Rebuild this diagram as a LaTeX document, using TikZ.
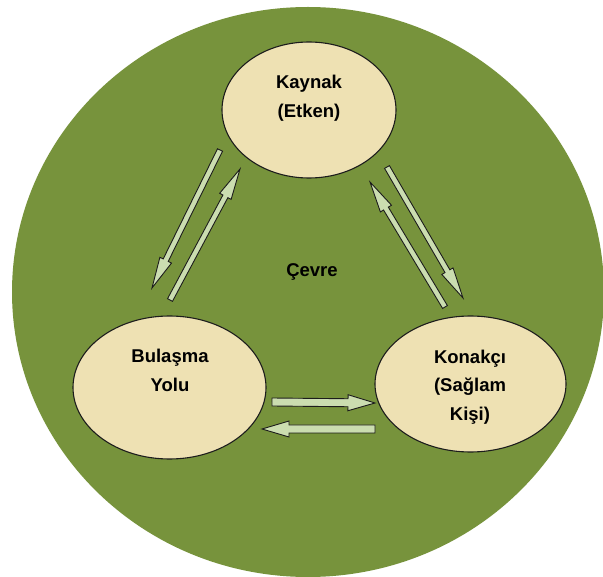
\documentclass[tikz,border=0pt]{standalone}
\usepackage{fontspec}
\setmainfont{Liberation Sans}
\usetikzlibrary{calc,shapes.geometric}
\definecolor{envgreen}{HTML}{77933C}
\definecolor{tan}{HTML}{EEE1B3}
\definecolor{arrfill}{HTML}{CBDDB0}
\definecolor{edge}{HTML}{1C1C1C}
\tikzset{
  blob/.style={ellipse, draw=edge, line width=1.1pt, fill=tan, inner sep=0pt},
  lbl/.style={font=\bfseries\fontsize{18.5}{29}\selectfont, align=center, anchor=base, inner sep=0pt, text=black},
  blockarr/.style={draw=edge, line width=0.9pt, fill=arrfill, line join=miter}
}
% #1 tail, #2 tip, #3 half shaft, #4 half head, #5 head length
\newcommand\myblockarrow[5]{%
  \coordinate (hb) at ($(#2)!#5!(#1)$);
  \draw[blockarr] ($(#1)!#3!90:(#2)$) -- ($(hb)!#3!-90:(#1)$) -- ($(hb)!#4!-90:(#1)$) -- (#2)
    -- ($(hb)!#4!90:(#1)$) -- ($(hb)!#3!90:(#1)$) -- ($(#1)!#3!-90:(#2)$) -- cycle;
}
\begin{document}
\begin{tikzpicture}[x=1pt,y=-1pt]
  \useasboundingbox (0,0) rectangle (603,577);
  \fill[white] (0,0) rectangle (603,577);
  \begin{scope}
    \clip (0,0) rectangle (603,577);
    \fill[envgreen] (308,292) ellipse [x radius=296, y radius=285];
  \end{scope}
  % ellipses
  \node[blob, minimum width=174pt, minimum height=136pt] (kaynak) at (309,110) {};
  \node[blob, minimum width=193pt, minimum height=143pt] (bulasma) at (169.5,387.5) {};
  \node[blob, minimum width=191pt, minimum height=136pt] (konakci) at (470.5,384) {};
  % labels (anchor base = baseline of last line)
  \node[lbl] (tk) at (309,118) {Kaynak\\(Etken)};
  \node[lbl] (tb) at (170,392) {Bulaşma\\Yolu};
  \node[lbl] (tn) at (470,421) {Konakçı\\(Sağlam\\Kişi)};
  \node[lbl] (tc) at (312,277) {Çevre};
  % arrow end points
  \coordinate (a1t) at (220,150); \coordinate (a1h) at (152,288);
  \coordinate (a2t) at (170,300); \coordinate (a2h) at (240,169);
  \coordinate (a3t) at (387,167); \coordinate (a3h) at (463,298);
  \coordinate (a4t) at (445,307); \coordinate (a4h) at (370,182);
  \coordinate (a5t) at (272,402); \coordinate (a5h) at (375,403);
  \coordinate (a6t) at (375,429); \coordinate (a6h) at (262,429);
  \myblockarrow{a1t}{a1h}{2.8pt}{6.5pt}{31pt}
  \myblockarrow{a2t}{a2h}{2.8pt}{6.5pt}{31pt}
  \myblockarrow{a3t}{a3h}{2.8pt}{6.5pt}{31pt}
  \myblockarrow{a4t}{a4h}{2.8pt}{6.5pt}{31pt}
  \myblockarrow{a5t}{a5h}{4pt}{8pt}{27pt}
  \myblockarrow{a6t}{a6h}{4pt}{8pt}{27pt}
\end{tikzpicture}
\end{document}
